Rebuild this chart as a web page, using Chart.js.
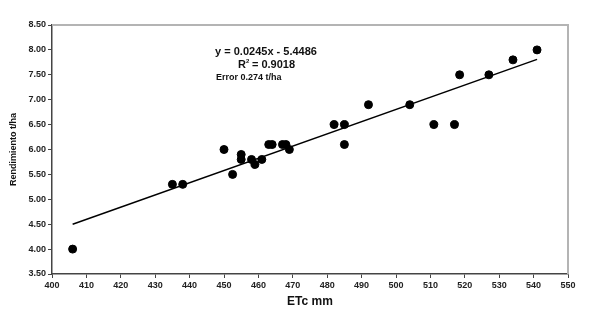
<!DOCTYPE html>
<html>
<head>
<meta charset="utf-8">
<script src="https://cdn.jsdelivr.net/npm/chart.js@4/dist/chart.umd.min.js"></script>
<style>
    html, body { margin: 0; padding: 0; background: #fff; }
    #wrap { width: 592px; height: 309px; }
</style>
</head>
<body>
<div id="wrap"><canvas id="grafico"></canvas></div>
<script>
// ETc (mm) y rendimiento (t/ha)
var etc = [406, 435, 438, 450, 452.5, 455, 455, 458, 459, 461, 463, 464, 467, 468, 469,
    482, 485, 485, 492, 504, 511, 517, 518.5, 527, 534, 541];
var rendimiento = [4.0, 5.3, 5.3, 6.0, 5.5, 5.9, 5.8, 5.8, 5.7, 5.8, 6.1, 6.1, 6.1, 6.1, 6.0,
    6.5, 6.5, 6.1, 6.9, 6.9, 6.5, 6.5, 7.5, 7.5, 7.8, 8.0];

// linea de tendencia (extremos)
var tendX = [406, 541];
var tendY = [4.50, 7.81];

var ecuacion = 'y = 0.0245x - 5.4486';
var r2 = '0.9018';
var errorTxt = 'Error 0.274 t/ha';

var puntos = etc.map(function (x, i) { return { x: x, y: rendimiento[i] }; });
var tendencia = tendX.map(function (x, i) { return { x: x, y: tendY[i] }; });

var fuente = 'Liberation Sans, Arial, sans-serif';

var textos = {
    id: 'textos',
    afterDatasetsDraw: function (chart) {
        var c = chart.ctx;
        var a = chart.chartArea;
        c.save();
        // marco gris arriba y derecha
        c.strokeStyle = '#b4b4b4';
        c.lineWidth = 2;
        c.beginPath();
        c.moveTo(a.left, a.top);
        c.lineTo(a.right, a.top);
        c.lineTo(a.right, a.bottom);
        c.stroke();

        c.fillStyle = '#111';
        c.textBaseline = 'middle';
        c.textAlign = 'center';
        c.font = 'bold 11px ' + fuente;
        c.fillText(ecuacion, 266, 52);
        c.textAlign = 'left';
        var w = c.measureText('R = ' + r2).width;
        var x0 = 265 - w / 2;
        c.fillText('R', x0, 65);
        var wr = c.measureText('R').width;
        c.font = 'bold 6px ' + fuente;
        c.fillText('2', x0 + wr, 61);
        c.font = 'bold 11px ' + fuente;
        c.fillText(' = ' + r2, x0 + wr + 3, 65);
        c.font = 'bold 9px ' + fuente;
        c.fillText(errorTxt, 216, 78);
        c.restore();
    }
};

var ctx = document.getElementById('grafico').getContext('2d');
var chart = new Chart(ctx, {
    type: 'scatter',
    data: {
        datasets: [{
            label: 'Datos',
            data: puntos,
            backgroundColor: '#000',
            borderColor: '#000',
            pointRadius: 4,
            pointHoverRadius: 4
        }, {
            type: 'line',
            label: 'Tendencia',
            data: tendencia,
            borderColor: '#000',
            borderWidth: 1.5,
            pointRadius: 0,
            fill: false
        }]
    },
    options: {
        responsive: true,
        maintainAspectRatio: false,
        animation: false,
        layout: { padding: { left: 0, right: 24, top: 25, bottom: 0 } },
        plugins: {
            legend: { display: false },
            tooltip: { enabled: false }
        },
        scales: {
            x: {
                type: 'linear',
                min: 400,
                max: 550,
                afterFit: function (s) { s.height = 35; },
                ticks: {
                    stepSize: 10,
                    color: '#222',
                    padding: 2,
                    maxRotation: 0,
                    font: { family: fuente, size: 9, weight: 'bold' }
                },
                grid: { drawOnChartArea: false, tickLength: 4, color: '#444' },
                border: { color: '#444', width: 1.5 },
                title: {
                    display: true,
                    text: 'ETc mm',
                    color: '#111',
                    padding: { top: 3, bottom: 0 },
                    font: { family: fuente, size: 12, weight: 'bold' }
                }
            },
            y: {
                min: 3.5,
                max: 8.5,
                afterFit: function (s) { s.width = 52; },
                ticks: {
                    stepSize: 0.5,
                    color: '#222',
                    padding: 2,
                    font: { family: fuente, size: 9, weight: 'bold' },
                    callback: function (v) { return v.toFixed(2); }
                },
                grid: { drawOnChartArea: false, tickLength: 4, color: '#444' },
                border: { color: '#444', width: 1.5 },
                title: {
                    display: true,
                    text: 'Rendimiento t/ha',
                    color: '#111',
                    padding: { top: 8, bottom: 0 },
                    font: { family: fuente, size: 9, weight: 'bold' }
                }
            }
        }
    },
    plugins: [textos]
});
</script>
</body>
</html>
